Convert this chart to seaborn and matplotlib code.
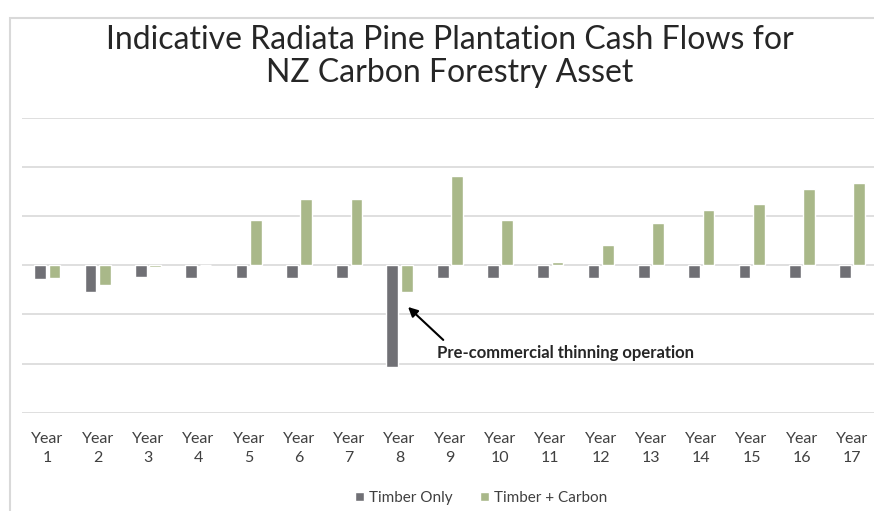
import pandas as pd
import matplotlib.pyplot as plt
import seaborn as sns
from matplotlib.patches import Rectangle

years = [f"Year\n{i}" for i in range(1, 18)]
timber_only = [-0.29, -0.54, -0.25, -0.27, -0.27, -0.27, -0.27, -2.08, -0.27,
               -0.27, -0.27, -0.27, -0.27, -0.27, -0.27, -0.27, -0.27]
timber_carbon = [-0.27, -0.41, -0.03, 0.0, 0.91, 1.34, 1.34, -0.55, 1.82,
                 0.91, 0.07, 0.42, 0.85, 1.13, 1.25, 1.54, 1.68]
series_names = ["Timber Only", "Timber + Carbon"]
title = "Indicative Radiata Pine Plantation Cash Flows for\nNZ Carbon Forestry Asset"
note = "Pre-commercial thinning operation"

data = pd.DataFrame({
    "year": years * 2,
    "value": timber_only + timber_carbon,
    "series": [series_names[0]] * 17 + [series_names[1]] * 17,
})

sns.set_style("white")
plt.rcParams['font.family'] = ['Lato', 'DejaVu Sans']

fig = plt.figure(figsize=(8.74, 5.11), dpi=100)
ax = fig.add_axes([22.3 / 874, 1 - 412.7 / 511, 855 / 874, 295 / 511])

sns.barplot(data=data, x="year", y="value", hue="series", ax=ax,
            palette=["#707075", "#a9b889"], width=0.57, gap=0.18,
            saturation=1, zorder=3)

ax.set_ylim(-3, 3)
ax.set_xlim(-0.5, 16.5)
ax.set_yticks(range(-3, 4))
ax.set_yticklabels([])
ax.yaxis.grid(True, color="#d9d9d9", linewidth=1.2, zorder=0)
ax.tick_params(axis="both", length=0)
ax.tick_params(axis="x", labelsize=11.5, labelcolor="#404040", pad=14)
for lbl in ax.get_xticklabels():
    lbl.set_linespacing(1.45)
for s in ax.spines.values():
    s.set_visible(False)
ax.set_xlabel("")
ax.set_ylabel("")

ax.set_title(title, fontsize=23, color="#262626", pad=26, linespacing=1.12)

ax.annotate("", xy=(7.17, -0.85), xytext=(7.87, -1.52),
            arrowprops=dict(arrowstyle="-|>", color="black", lw=1.5,
                            mutation_scale=14, shrinkA=0, shrinkB=0))
ax.text(7.75, -1.79, note, fontsize=12, fontweight="bold", va="center", ha="left")

handles, labels = ax.get_legend_handles_labels()
ax.legend(handles, labels, loc="center", bbox_to_anchor=(481 / 874, 13 / 511),
          bbox_transform=fig.transFigure, ncol=2, frameon=False, fontsize=11,
          handlelength=0.6, handleheight=0.6, handletextpad=0.3, columnspacing=1.8,
          labelcolor="#404040")

fig.patches.append(Rectangle((10 / 874, -0.2), 1.2, 1 - 18 / 511 + 0.2,
                             transform=fig.transFigure, fill=False,
                             edgecolor="#d9d9d9", linewidth=1.5))

fig.savefig("out.png", dpi=100)
